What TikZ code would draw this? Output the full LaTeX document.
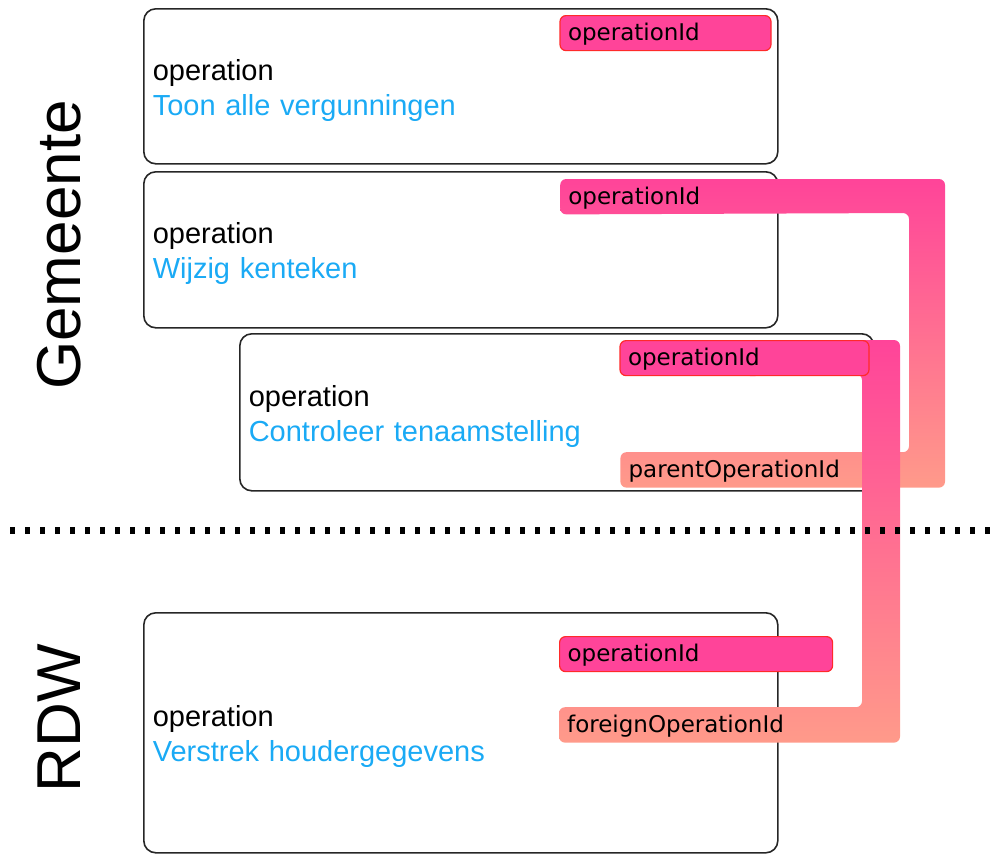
\documentclass[tikz,border=0pt]{standalone}
\usepackage{fontspec}
\setmainfont{Liberation Sans}
\newfontfamily\tagfont{DejaVu Sans}
\usetikzlibrary{positioning,calc}

\pgfdeclarelayer{boxes}
\pgfdeclarelayer{links}
\pgfsetlayers{boxes,links,main}

\definecolor{idpink}{HTML}{FF4499}
\definecolor{idsalmon}{HTML}{FF9A8A}
\definecolor{idred}{HTML}{FF2A2A}
\definecolor{opblue}{HTML}{1AAAF5}

\newcommand\opfont{\fontsize{29}{35}\selectfont\spaceskip=12pt plus 2pt\relax}

\begin{document}
\begin{tikzpicture}[
        x=1pt, y=1pt,
        opbox/.style={draw=black!85, line width=1.6pt, rounded corners=12pt, anchor=north west,
          text width=616pt, inner xsep=9pt, align=left, font=\opfont},
        idtag/.style={minimum height=35pt, inner xsep=8pt, text height=18pt, text depth=3pt, align=left,
          rounded corners=6pt, font=\tagfont\fontsize{23}{26}\selectfont},
        idown/.style={idtag, fill=idpink, draw=idred, line width=1.2pt},
        link/.style={top color=idpink, bottom color=idsalmon, rounded corners=6pt},
        side/.style={rotate=90, anchor=base, font=\fontsize{62}{62}\selectfont}
      ]
      \useasboundingbox (0,0) rectangle (995,-855);

      \begin{pgfonlayer}{boxes}
      \node (Gm1) [opbox, minimum height=155pt] at (143,-8) {\rule{0pt}{29pt}operation\\\textcolor{opblue}{Toon alle vergunningen}};
      \node (Gm2) [opbox, minimum height=156pt] at (143,-171) {\rule{0pt}{29pt}operation\\\textcolor{opblue}{Wijzig kenteken}};
      \node (Ct3) [opbox, minimum height=157pt] at (239,-333) {\rule{0pt}{29pt}operation\\\textcolor{opblue}{Controleer tenaamstelling}};
      \node (Rd4) [opbox, minimum height=240pt] at (143,-612) {\rule{0pt}{29pt}operation\\\textcolor{opblue}{Verstrek houdergegevens}};
      \end{pgfonlayer}

      \node (Gem) [side] at (80,-245) {Gemeente};
      \node (Rdw) [side] at (80,-718) {RDW};

      \node (Gm1id) [idown, text width=195pt, below left=7pt and 7pt of Gm1.north east] {operationId};
      \node (Gm2id) [idtag, text width=195pt, below left=8pt and 7pt of Gm2.north east] {operationId};
      \node (Ct3id) [idown, text width=233pt, below left=7pt and 5pt of Ct3.north east] {operationId};
      \node (Ct3par) [idtag, below right=76pt and 1pt of Ct3id.south west] {parentOperationId};
      \node (Rd4id) [idown, text width=257pt, below right=24pt and 416pt of Rd4.north west] {operationId};
      \node (Rd4for) [idtag, below right=35pt and 0pt of Rd4id.south west] {foreignOperationId};

      \coordinate (GmTurn) at (945,-179);
      \coordinate (GmTurnIn) at (909,-213);
      \coordinate (CtTurn) at (900,-340);
      \coordinate (CtTurnIn) at (862,-374);

      \begin{pgfonlayer}{links}
      \shade[link] (Gm2id.north west) -- (GmTurn) -- (GmTurn |- Ct3par.south) -- (Ct3par.south west)
        -- (Ct3par.north west) -- (GmTurnIn |- Ct3par.north) -- (GmTurnIn) -- (Gm2id.south west) -- cycle;
      \shade[link] (Ct3id.north) -- (CtTurn) -- (CtTurn |- Rd4for.south) -- (Rd4for.south west)
        -- (Rd4for.north west) -- (CtTurnIn |- Rd4for.north) -- (CtTurnIn) -- (Ct3id.south) -- cycle;
      \end{pgfonlayer}

      \draw[line width=7pt, dash pattern=on 5pt off 10pt] (10,-530) -- (995,-530);

    \end{tikzpicture}
\end{document}
